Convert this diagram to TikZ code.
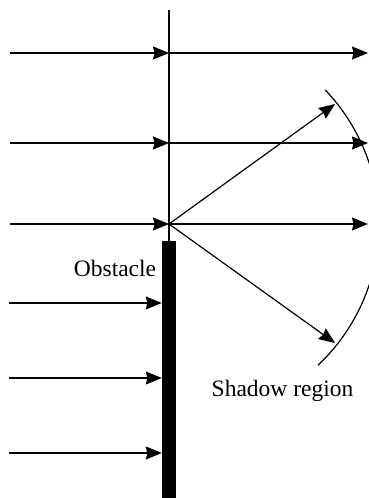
\documentclass[tikz,border=0pt]{standalone}
\usepackage{fontspec}
\setmainfont{Liberation Serif}
\usetikzlibrary{arrows.meta,positioning}

\begin{document}
\begin{tikzpicture}[
  x=1pt, y=1pt,
  ray/.style={line width=1.2pt},
  wallbox/.style={fill=black, minimum width=14pt, minimum height=257pt, inner sep=0pt},
  labeltext/.style={font=\fontsize{23.5}{28}\selectfont, inner sep=0pt, anchor=base},
  >={Stealth[length=16pt, width=13pt, inset=1.5pt]}
]
\clip (0,0) rectangle (369,498);

\node[wallbox] (wall) at (169,128.5) {};
\coordinate (top) at (169,488);
\coordinate (src) at (169,274);

% rays passing above the obstacle
\foreach \y/\n in {445/a, 355/b, 274/c} {
  \coordinate (in\n) at (10,\y);
  \coordinate (mid\n) at (169,\y);
  \coordinate (out\n) at (368,\y);
  \draw[ray,->] (in\n) -- (mid\n);
  \draw[ray,->] (mid\n) -- (out\n);
}

% rays stopped by the obstacle
\foreach \y/\n in {195/d, 120/e, 45/f} {
  \coordinate (in\n) at (9,\y);
  \draw[ray,->] (in\n) -- (wall.west |- in\n);
}

\draw[ray] (top) -- (wall.north);

% diffracted rays and wavefront
\coordinate (up) at (335,394);
\coordinate (down) at (335,155);
\draw[ray,->] (src) -- (up);
\draw[ray,->] (src) -- (down);
\coordinate (arccenter) at (185,274);
\draw[ray] (arccenter) ++(-46.7:194) arc[start angle=-46.7, end angle=43.7, radius=194];

\node[labeltext] (obstaclelabel) at (115,221) {Obstacle};
\node[labeltext] (shadowlabel) at (282.5,101) {Shadow region};
\end{tikzpicture}
\end{document}
